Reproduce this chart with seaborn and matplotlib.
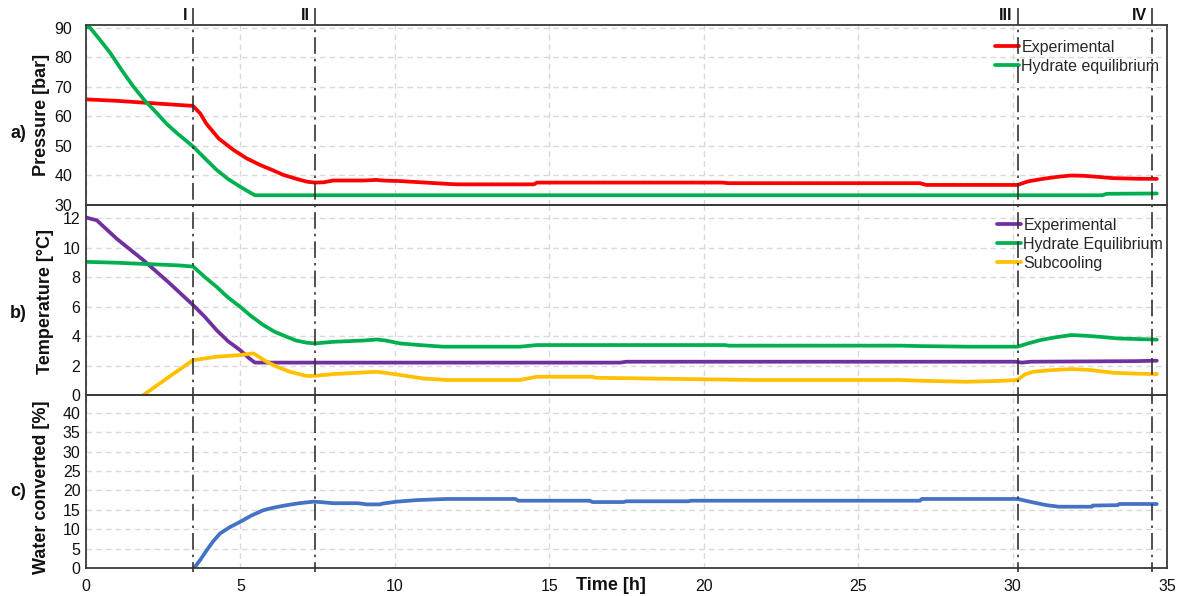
import numpy as np
import pandas as pd
import matplotlib
matplotlib.use("Agg")
import matplotlib.pyplot as plt
import matplotlib.transforms as mtransforms
from matplotlib.lines import Line2D
import seaborn as sns

# ---- a) pressure ----
p_exp_t = [0, 1.0, 2.0, 3.0, 3.46, 3.7, 3.9, 4.3, 4.77, 5.2, 5.63, 6.0, 6.39, 6.8, 7.15, 7.41,
           7.7, 8.0, 9.0, 9.41, 9.6, 10.2, 10.5, 11.8, 12.0, 14.5, 14.6, 20.6, 20.8, 27.0, 27.2,
           30.16, 30.5, 31.0, 31.5, 31.9, 32.3, 32.8, 33.25, 34.0, 34.67]
p_exp = [65.8, 65.3, 64.6, 63.9, 63.6, 61.0, 57.5, 52.5, 48.7, 45.8, 43.6, 42.0, 40.2, 38.9, 37.9, 37.6,
         37.7, 38.3, 38.3, 38.5, 38.3, 38.1, 37.9, 37.1, 37.0, 37.0, 37.6, 37.6, 37.4, 37.4, 36.8,
         36.8, 38.0, 38.9, 39.6, 40.0, 39.9, 39.5, 39.1, 38.9, 38.85]

p_eq_t = [0, 0.13, 0.45, 0.78, 1.15, 1.53, 1.9, 2.29, 2.6, 2.94, 3.47, 3.85, 4.23, 4.6, 4.99,
          5.25, 5.47, 9.0, 32.9, 33.05, 34.67]
p_eq = [90.4, 90.1, 86.0, 81.6, 75.8, 70.2, 65.4, 61.2, 57.6, 54.4, 49.8, 45.8, 41.9, 38.8, 36.2,
        34.6, 33.3, 33.3, 33.3, 33.8, 33.9]

# ---- b) temperature ----
t_exp_t = [0, 0.35, 1.0, 1.86, 2.7, 3.47, 3.85, 4.23, 4.6, 4.99, 5.25, 5.47, 17.3, 17.5,
           30.1, 30.3, 30.6, 34.0, 34.67]
t_exp = [12.05, 11.86, 10.6, 9.15, 7.6, 6.1, 5.3, 4.4, 3.65, 3.05, 2.55, 2.2, 2.2, 2.26,
         2.26, 2.2, 2.26, 2.3, 2.33]

t_eq_t = [0, 1.0, 1.86, 3.0, 3.47, 3.85, 4.23, 4.6, 4.99, 5.35, 5.74, 6.1, 6.5, 6.8, 7.15, 7.41,
          8.0, 9.0, 9.41, 9.7, 10.17, 10.8, 11.57, 14.05, 14.6, 20.7, 20.8, 26.4, 27.0, 28.6,
          30.16, 30.5, 30.9, 31.4, 31.9, 32.4, 33.0, 33.4, 34.67]
t_eq = [9.04, 8.98, 8.9, 8.8, 8.72, 8.0, 7.34, 6.62, 5.99, 5.35, 4.75, 4.3, 3.95, 3.7, 3.55, 3.5,
        3.61, 3.7, 3.77, 3.7, 3.5, 3.39, 3.28, 3.28, 3.39, 3.39, 3.35, 3.35, 3.32, 3.28,
        3.28, 3.5, 3.73, 3.92, 4.07, 4.02, 3.92, 3.84, 3.76]

sub_t = [0, 1.86, 2.7, 3.47, 3.85, 4.23, 4.99, 5.42, 5.85, 6.2, 6.6, 7.15, 7.41, 8.0, 9.41, 9.7,
         10.17, 10.92, 11.68, 14.05, 14.6, 16.4, 16.5, 20.2, 21.6, 26.35, 27.0, 28.5, 29.5,
         30.16, 30.4, 30.67, 31.2, 31.9, 32.5, 33.26, 34.0, 34.67]
sub = [-3.0, 0.0, 1.25, 2.37, 2.48, 2.6, 2.71, 2.83, 2.26, 1.9, 1.58, 1.29, 1.3, 1.42, 1.58, 1.5,
       1.36, 1.12, 1.02, 1.02, 1.24, 1.24, 1.17, 1.06, 1.02, 1.02, 0.97, 0.9, 0.95,
       1.02, 1.4, 1.58, 1.68, 1.76, 1.7, 1.51, 1.45, 1.42]

# ---- c) water conversion ----
w_t = [3.5, 3.7, 3.91, 4.12, 4.34, 4.65, 4.99, 5.35, 5.74, 6.1, 6.5, 6.9, 7.36, 7.6, 8.0, 8.8,
       9.09, 9.52, 9.6, 10.06, 10.7, 11.68, 13.9, 14.0, 16.3, 16.4, 17.4, 17.5, 19.5, 19.6,
       27.0, 27.06, 30.16, 30.67, 31.1, 31.5, 32.56, 32.6, 33.4, 33.45, 34.67]
w = [0, 2.1, 4.6, 6.9, 8.9, 10.5, 11.9, 13.5, 14.9, 15.6, 16.2, 16.7, 17.1, 17.0, 16.7, 16.7,
     16.4, 16.4, 16.6, 17.1, 17.5, 17.8, 17.8, 17.35, 17.35, 17.0, 17.0, 17.2, 17.2, 17.35,
     17.35, 17.8, 17.8, 16.9, 16.2, 15.8, 15.8, 16.1, 16.2, 16.5, 16.5]

# stage markers
stage_t = [3.46, 7.41, 30.16, 34.5]
stage_labels = ["I", "II", "III", "IV"]
x_ticks = [0, 5, 10, 15, 20, 25, 30, 35]

sns.set_theme(style="white")
plt.rcParams["font.family"] = ["Liberation Sans", "DejaVu Sans"]

RED, GREEN, PURPLE, YELLOW, BLUE = "#FF0000", "#00B050", "#7030A0", "#FFC000", "#4472C4"
SPINE = "#3a3a3a"
TXT = "#111111"
LW = 2.7

W_PX, H_PX = 1184, 596
fig = plt.figure(figsize=(W_PX / 100, H_PX / 100), dpi=100)


def rect(top_px, bottom_px, left_px=86, right_px=1167):
    return [left_px / W_PX, 1 - bottom_px / H_PX, (right_px - left_px) / W_PX,
            (bottom_px - top_px) / H_PX]


ax_a = fig.add_axes(rect(25, 205))
ax_b = fig.add_axes(rect(205, 395), sharex=ax_a)
ax_c = fig.add_axes(rect(395, 568), sharex=ax_a)

sns.lineplot(x=p_exp_t, y=p_exp, ax=ax_a, color=RED, lw=LW, label="Experimental",
             estimator=None, sort=False)
sns.lineplot(x=p_eq_t, y=p_eq, ax=ax_a, color=GREEN, lw=LW, label="Hydrate equilibrium",
             estimator=None, sort=False)

sns.lineplot(x=t_exp_t, y=t_exp, ax=ax_b, color=PURPLE, lw=LW, label="Experimental",
             estimator=None, sort=False)
sns.lineplot(x=t_eq_t, y=t_eq, ax=ax_b, color=GREEN, lw=LW, label="Hydrate Equilibrium",
             estimator=None, sort=False)
sns.lineplot(x=sub_t, y=sub, ax=ax_b, color=YELLOW, lw=LW, label="Subcooling",
             estimator=None, sort=False)

sns.lineplot(x=w_t, y=w, ax=ax_c, color=BLUE, lw=LW, estimator=None, sort=False)

ax_a.set_ylim(30, 91)
ax_a.set_yticks(np.arange(30, 91, 10))
ax_b.set_ylim(0, 12.9)
ax_b.set_yticks(np.arange(0, 13, 2))
ax_c.set_ylim(0, 44.6)
ax_c.set_yticks(np.arange(0, 41, 5))
ax_c.set_xlim(0, 35)
ax_c.set_xticks(x_ticks)

for ax in (ax_a, ax_b, ax_c):
    ax.set_xlabel("")
    ax.set_ylabel("")
    ax.set_facecolor("none")
    ax.grid(True, color="#D9D9D9", linestyle=(0, (4, 3)), linewidth=1.0)
    ax.set_axisbelow(True)
    for s in ax.spines.values():
        s.set_color(SPINE)
        s.set_linewidth(1.3)
    ax.tick_params(axis="y", length=0, labelsize=11.5, colors=TXT)

ax_a.tick_params(axis="y", pad=10)
ax_b.tick_params(axis="y", pad=4)
ax_c.tick_params(axis="y", pad=4)
for ax in (ax_a, ax_b):
    ax.tick_params(axis="x", length=0, labelbottom=False)
ax_c.tick_params(axis="x", length=3, width=1, direction="out", labelsize=11.5, pad=5,
                 color=SPINE, labelcolor=TXT)

# legends
leg_kw = dict(frameon=False, fontsize=11.5, borderpad=0, borderaxespad=0,
              handlelength=1.5, handletextpad=0.15, labelspacing=0.25, loc="upper left")
ax_a.legend(bbox_to_anchor=((995 - 86) / 1081, (205 - 40) / 180), **leg_kw)
ax_b.legend(bbox_to_anchor=((997 - 86) / 1081, (395 - 218) / 190), **leg_kw)

# stage marker lines spanning all three panels
blend = mtransforms.blended_transform_factory(ax_c.transData, fig.transFigure)
for t, lab in zip(stage_t, stage_labels):
    fig.add_artist(Line2D([t, t], [1 - 8 / H_PX, 1 - 572 / H_PX], transform=blend,
                          color="#333333", lw=1.2, linestyle=(0, (10, 3, 1.5, 3))))
    off = mtransforms.offset_copy(blend, fig=fig, x=-5, y=0, units="dots")
    fig.text(t, 1 - 16 / H_PX, lab, transform=off, ha="right", va="center",
             fontsize=11.5, fontweight="bold", color=TXT)

# axis titles and panel tags
ylab_kw = dict(rotation=90, ha="center", va="center", fontsize=13, fontweight="bold",
               color=TXT)
fig.text(42 / W_PX, 1 - 115 / H_PX, "Pressure [bar]", **ylab_kw)
fig.text(45 / W_PX, 1 - 301 / H_PX, "Temperature [°C]", **ylab_kw)
fig.text(42 / W_PX, 1 - 487 / H_PX, "Water converted [%]", **ylab_kw)
tag_kw = dict(ha="center", va="center", fontsize=13, fontweight="bold", color=TXT)
fig.text(18 / W_PX, 1 - 133 / H_PX, "a)", **tag_kw)
fig.text(18 / W_PX, 1 - 313 / H_PX, "b)", **tag_kw)
fig.text(18 / W_PX, 1 - 492 / H_PX, "c)", **tag_kw)
fig.text(611 / W_PX, 1 - 585 / H_PX, "Time [h]", ha="center", va="center",
         fontsize=13, fontweight="bold", color=TXT)

fig.savefig("out.png", dpi=100)
